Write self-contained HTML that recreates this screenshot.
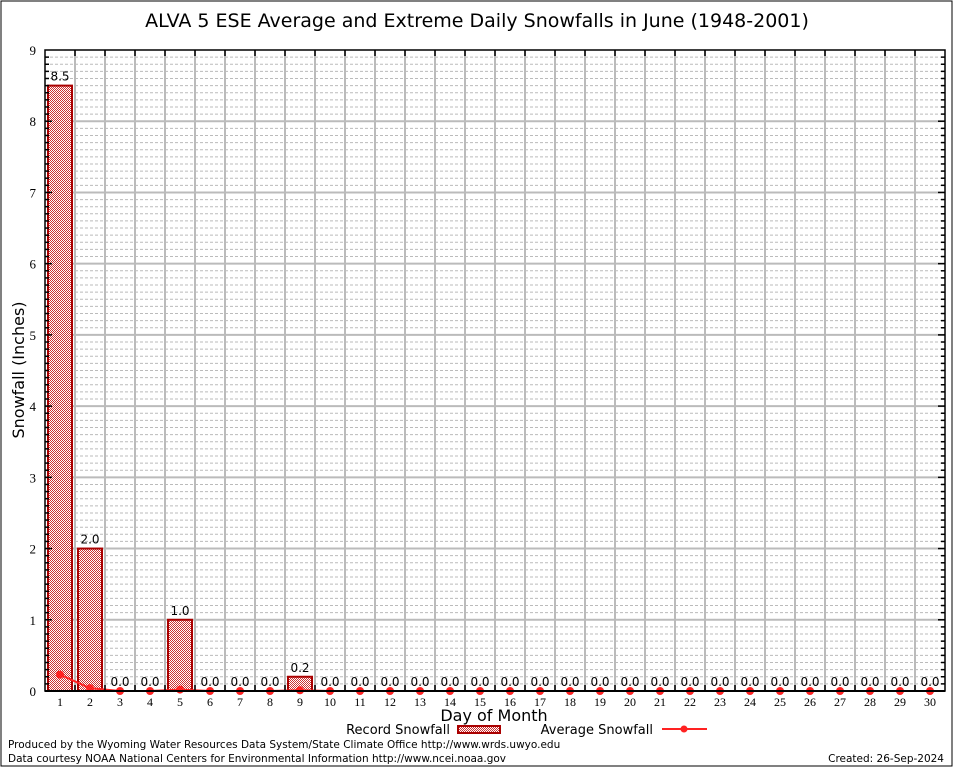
<!DOCTYPE html>
<html><head><meta charset="utf-8"><style>
body{margin:0;background:#fff;width:954px;height:768px;overflow:hidden}
svg text{font-family:"DejaVu Sans","Liberation Sans",sans-serif}
.t{font-family:"Liberation Serif",serif !important}
</style></head><body>
<svg id="c" width="954" height="768" xmlns="http://www.w3.org/2000/svg">
<defs>
<pattern id="hatch" width="2" height="2" patternUnits="userSpaceOnUse">
<rect width="2" height="2" fill="#fff"/>
<rect x="0" y="0" width="1" height="1" fill="#c33"/>
<rect x="1" y="1" width="1" height="1" fill="#c33"/>
</pattern>
</defs>
<rect x="1" y="1" width="951" height="765" fill="#fff" stroke="#000" stroke-width="1"/>
<text x="477" y="27" font-size="19" text-anchor="middle">ALVA 5 ESE Average and Extreme Daily Snowfalls in June (1948-2001)</text>
<g id="grid"></g>
<g id="bars"></g>
<g id="avg"></g>
<g id="axes"></g>
<text transform="translate(24,370) rotate(-90)" font-size="16" text-anchor="middle">Snowfall (Inches)</text>
<text x="494" y="721" font-size="16" text-anchor="middle">Day of Month</text>
<g>
<text x="450" y="734" font-size="13" text-anchor="end">Record Snowfall</text>
<rect x="458" y="726" width="42" height="7" fill="url(#hatch)" stroke="#a00" stroke-width="2"/>
<text x="653" y="734" font-size="13" text-anchor="end">Average Snowfall</text>
<line x1="662" y1="729" x2="707" y2="729" stroke="#f22" stroke-width="2"/>
<circle cx="684" cy="729" r="3.5" fill="#f22"/>
</g>
<text x="8" y="748" font-size="10.5">Produced by the Wyoming Water Resources Data System/State Climate Office http://www.wrds.uwyo.edu</text>
<text x="8" y="762" font-size="10.5">Data courtesy NOAA National Centers for Environmental Information http://www.ncei.noaa.gov</text>
<text x="944" y="762" font-size="10.5" text-anchor="end">Created:  26-Sep-2024</text>
</svg>
<script>
const days=[1,2,3,4,5,6,7,8,9,10,11,12,13,14,15,16,17,18,19,20,21,22,23,24,25,26,27,28,29,30];
const record=[8.5,2.0,0,0,1.0,0,0,0,0.2,0,0,0,0,0,0,0,0,0,0,0,0,0,0,0,0,0,0,0,0,0];
const average=[0.23,0.04,0,0,0.02,0,0,0,0.01,0,0,0,0,0,0,0,0,0,0,0,0,0,0,0,0,0,0,0,0,0];
const yTicks=[0,1,2,3,4,5,6,7,8,9];
const NS="http://www.w3.org/2000/svg";
const L=45,R=945,T=50,B=691,yMax=9;
const xs=d=>L+15+(d-1)*30;
const ys=v=>B-(v/yMax)*(B-T);
function mk(tag,attrs,parent){const e=document.createElementNS(NS,tag);for(const k in attrs)e.setAttribute(k,attrs[k]);parent.appendChild(e);return e;}
const grid=document.getElementById('grid'),bars=document.getElementById('bars'),avg=document.getElementById('avg'),axes=document.getElementById('axes');
for(let i=1;i<yMax*10;i++){if(i%10===0)continue;const y=ys(i/10);
const l=mk('line',{x1:L,x2:R,y1:y,y2:y,stroke:'#bbb','stroke-width':1,'stroke-dasharray':'3,2'},grid);

}
yTicks.forEach(v=>{if(v===0||v===yMax)return;const y=ys(v);
const l=mk('line',{x1:L,x2:R,y1:y,y2:y,stroke:'#bbb','stroke-width':2},grid);

});
for(let i=1;i<days.length;i++){const x=L+i*30;
const l=mk('line',{x1:x,x2:x,y1:T,y2:B,stroke:'#bbb','stroke-width':2},grid);


const tk=mk('line',{x1:x,x2:x,y1:T,y2:T+6,stroke:'#000','stroke-width':1.5},axes);


const tb=mk('line',{x1:x,x2:x,y1:B-6,y2:B,stroke:'#000','stroke-width':1.5},axes);

}
days.forEach((d,i)=>{const v=record[i],x=xs(d);
if(v>0){const r=mk('rect',{x:x-12,y:ys(v),width:24,height:B-ys(v),fill:'url(#hatch)',stroke:'#a00','stroke-width':2},bars);

}
const t=mk('text',{x:x,y:ys(v)-5,'font-size':12,'text-anchor':'middle'},bars);t.textContent=v.toFixed(1);


const xl=mk('text',{x:x,y:B+15,'font-size':12,'text-anchor':'middle',class:'t'},axes);xl.textContent=d;

});
const pl=mk('polyline',{points:days.map((d,i)=>xs(d)+','+ys(average[i])).join(' '),fill:'none',stroke:'#f22','stroke-width':2},avg);


days.forEach((d,i)=>{const c=mk('circle',{cx:xs(d),cy:ys(average[i]),r:4,fill:'#f22'},avg);

});
const fr=mk('rect',{x:L,y:T,width:R-L,height:B-T,fill:'none',stroke:'#000','stroke-width':1.5},axes);


mk('line',{x1:L,x2:R,y1:B,y2:B,stroke:'#000','stroke-width':2},axes);
for(let i=1;i<yMax*10;i++){const y=ys(i/10),w=i%10===0?7:4;
mk('line',{x1:L,x2:L+w,y1:y,y2:y,stroke:'#000','stroke-width':1.5},axes);
mk('line',{x1:R-w,x2:R,y1:y,y2:y,stroke:'#000','stroke-width':1.5},axes);}
yTicks.forEach(v=>{const t=mk('text',{x:L-9,y:ys(v)+5,'font-size':13,'text-anchor':'end',class:'t'},axes);t.textContent=v;

});
</script>
</body></html>
